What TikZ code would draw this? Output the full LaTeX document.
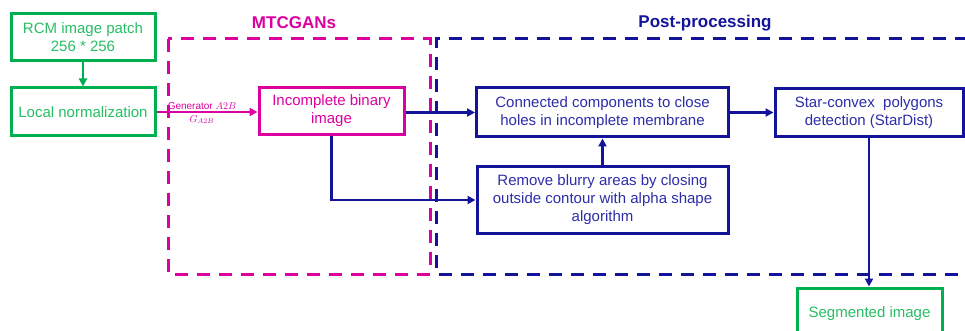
\documentclass[tikz,border=0pt]{standalone}
\usepackage{fontspec}
\setmainfont{Liberation Sans}
\usetikzlibrary{arrows.meta}
\definecolor{grn}{RGB}{0,176,80}
\definecolor{grntxt}{RGB}{40,190,100}
\definecolor{mag}{RGB}{220,0,160}
\definecolor{nav}{RGB}{20,20,155}
\definecolor{navtxt}{RGB}{45,45,170}
\tikzset{
  gbox/.style={draw=grn, line width=3pt, text=grntxt, align=center, font=\fontsize{15}{18}\selectfont, inner sep=0pt},
  mbox/.style={draw=mag, line width=3pt, text=mag, align=center, font=\fontsize{15}{18}\selectfont, inner sep=0pt},
  bbox/.style={draw=nav, line width=3pt, text=navtxt, align=center, font=\fontsize{15}{18}\selectfont, inner sep=0pt},
  garrow/.style={draw=grn, line width=2.8pt, -{Triangle[length=8pt,width=8pt]}},
  marrow/.style={draw=mag, line width=2.8pt, -{Triangle[length=8pt,width=8pt]}},
  barrow/.style={draw=nav, line width=2.8pt, -{Triangle[length=8pt,width=8pt]}},
  gdash/.style={line width=3pt, dash pattern=on 13pt off 9pt},
  ttl/.style={font=\fontsize{17}{20}\selectfont\bfseries},
  glab/.style={text=mag, font=\fontsize{10}{11}\selectfont, inner sep=1pt},
}
\begin{document}
\begin{tikzpicture}[x=1pt,y=-1pt]
\useasboundingbox (0,0) rectangle (965,331);
\clip (0,0) rectangle (965,331);
\fill[white] (0,0) rectangle (965,331);
% group frames
\draw[gdash, draw=mag] (168,39) rectangle (430,274);
\draw[gdash, draw=nav] (990,39) -- (436,39) -- (436,274) -- (990,274);
\node[ttl, text=mag] (t1) at (294,23) {MTCGANs};
\node[ttl, text=nav] (t2) at (705,23) {Post-processing};
% boxes
\node[gbox, minimum width=144pt, minimum height=47pt] (rcm) at (83,37.5) {RCM image patch\\256 * 256};
\node[gbox, minimum width=144pt, minimum height=48pt] (ln) at (83,112) {Local normalization};
\node[mbox, minimum width=145pt, minimum height=47pt] (inc) at (331.5,111) {Incomplete binary\\image};
\node[bbox, minimum width=252pt, minimum height=49pt] (cc) at (602.5,112.5) {Connected components to close\\holes in incomplete membrane};
\node[bbox, minimum width=251pt, minimum height=66pt] (rb) at (602.5,200) {Remove blurry areas by closing\\outside contour with alpha shape\\algorithm};
\node[bbox, minimum width=188pt, minimum height=48pt] (sc) at (869,113) {Star-convex\ \ polygons\\detection (StarDist)};
\node[gbox, minimum width=145pt, minimum height=52pt] (seg) at (869.5,314) {Segmented image};
% connectors
\draw[garrow] (rcm) -- (ln);
\draw[marrow] (ln.east) -- (inc.west |- ln.east)
  node[pos=0.45, above=0pt, glab] (gl) {Generator $A2B$}
  node[pos=0.45, below=1pt, glab] (gs) {$G_{A2B}$};
\draw[barrow] (inc.east |- cc.west) -- (cc.west);
\draw[barrow] (inc.south) |- (rb.west);
\draw[barrow] (rb.north) -- (cc.south);
\draw[barrow] (cc.east) -- (sc.west |- cc.east);
\draw[barrow] (sc.south) -- (sc.south |- seg.north);
\end{tikzpicture}
\end{document}
